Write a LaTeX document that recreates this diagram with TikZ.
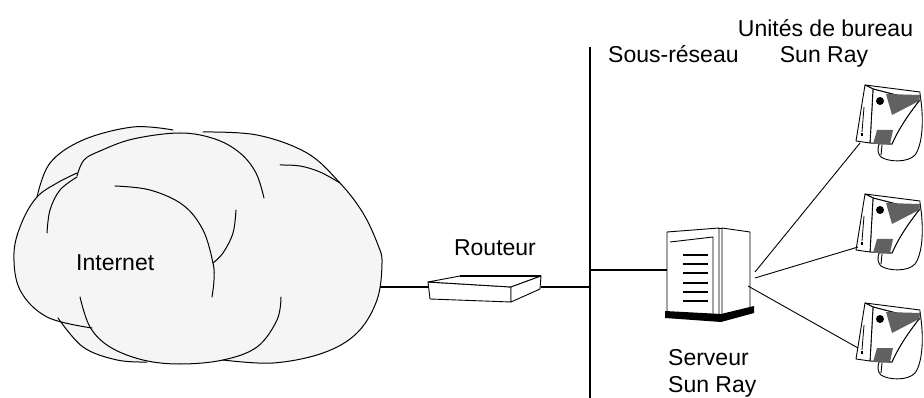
\documentclass[tikz,border=0pt]{standalone}
\usepackage{fontspec}
\setmainfont{Liberation Sans}
\definecolor{cloudgray}{RGB}{245,245,245}
\begin{document}
\begin{tikzpicture}[x=1pt,y=-1pt,
  txt/.style={inner sep=0pt, font=\fontsize{23}{27}\selectfont},
  cloudline/.style={line width=1pt, line join=round, line cap=round},
  netline/.style={line width=1.8pt},
  linkline/.style={line width=0.9pt},
  devline/.style={line width=0.9pt, line join=round},
  darkhatch/.style={fill=black!62, draw=black, line width=0.6pt},
  sunray/.pic={
    % stand and back shell
    \draw[devline, fill=white] (100,24) .. controls (104,48) and (103,74) .. (95,85)
      .. controls (88,93) and (68,92) .. (61,87) .. controls (58,84) and (57,80) .. (59,74) -- (72,74)
      .. controls (78,60) and (88,45) .. (99,31) -- cycle;
    \draw[devline] (62,75) -- (61,85);
    % top surface
    \draw[devline, fill=white] (45,15) -- (100,22) -- (100,31) -- (53,19) -- cycle;
    % front face
    \draw[devline, fill=white] (53,19) -- (99,31) .. controls (88,45) and (78,60) .. (72,74) -- (50,73) -- cycle;
    % hatched grille areas
    \fill[black!62] (66,24) -- (100,25) -- (99,31) -- (72,45) -- cycle;
    \fill[black!62] (57,60) -- (73,60) -- (70,74) -- (53,74) -- cycle;
    % round badge
    \fill (60,31) circle (4);
    % front bezel with card slot
    \draw[devline, fill=white] (45,15) -- (53,19) -- (50,73) -- (36,71) -- cycle;
    \draw[line width=0.8pt] (44,37) -- (42,62);
    \fill (40.5,63) rectangle (42.5,66);
  }
]
\useasboundingbox (0,0) rectangle (924,398);

% ---------- Internet cloud ----------
\fill[cloudgray] plot[smooth cycle, tension=0.45] coordinates {(14,253) (22,222) (37,197) (50,163) (83,140) (133,127) (173,130) (203,132) (257,135) (307,153) (340,183) (363,213) (378,245) (382,263) (377,300) (357,333) (323,353) (273,363) (223,361) (180,364) (147,362) (117,360) (83,347) (58,320) (47,317) (20,290)};
\begin{scope}[cloudline]
  % left lobe
  \draw plot[smooth, tension=0.6] coordinates {(92,328) (47,317) (20,290) (14,253) (22,222) (37,197) (57,183) (77,173)};
  % upper left lobe
  \draw plot[smooth, tension=0.6] coordinates {(37,197) (50,163) (83,140) (133,127) (173,130)};
  % upper middle lobe
  \draw plot[smooth, tension=0.6] coordinates {(77,176) (84,160) (100,151) (133,139) (180,133) (215,139) (240,153) (256,173) (264,198)};
  \draw plot[smooth, tension=0.6] coordinates {(77,177) (60,190) (50,210) (47,233)};
  % right lobe
  \draw plot[smooth, tension=0.6] coordinates {(203,132) (257,135) (307,153) (340,183) (363,213) (378,245) (382,263) (377,300) (357,333) (323,353) (273,363) (223,360)};
  \draw plot[smooth, tension=0.6] coordinates {(280,165) (300,166) (320,172) (340,183)};
  % inner folds
  \draw plot[smooth, tension=0.6] coordinates {(236,210) (233,233) (223,253) (213,263)};
  \draw plot[smooth, tension=0.6] coordinates {(115,186) (150,190) (183,205) (203,230) (213,263) (214,280) (212,297)};
  % lower lobes
  \draw plot[smooth, tension=0.6] coordinates {(80,297) (90,327) (110,347) (143,360) (180,364) (223,360) (257,347) (277,320) (281,297)};
  \draw plot[smooth, tension=0.6] coordinates {(58,318) (83,347) (117,360) (147,362)};
\end{scope}
\node[txt, anchor=base west] (internet) at (76,270) {Internet};
\coordinate (cloudE) at (380,287);

% ---------- router ----------
\node[inner sep=0pt, minimum width=113pt, minimum height=26pt] (router) at (484.5,289) {};
\draw[devline, fill=white] (428,282) -- (511,287) -- (511,302) -- (430,299) -- cycle;
\draw[devline, fill=white] (428,282) -- (460,276) -- (541,276) -- (511,287) -- cycle;
\draw[devline, fill=white] (511,287) -- (541,276) -- (540,289) -- (511,302) -- cycle;
\draw[line width=1.8pt] (460,276) -- (541,276);
\node[txt, anchor=base] (routerlabel) at (495,256) {Routeur};

% ---------- subnet bus ----------
\coordinate (busT) at (590,47);
\coordinate (busB) at (590,399);
\coordinate (busS) at (590,270);
\draw[netline] (busT) -- (busB);
\draw[netline] (cloudE) -- (cloudE -| router.west);
\draw[netline] (router.east |- cloudE) -- (cloudE -| busT);
\node[txt, anchor=base west] (subnet) at (608,63) {Sous-réseau};

% ---------- server ----------
\node[inner sep=0pt, minimum width=83pt, minimum height=90pt] (server) at (708.5,273) {};
\draw[devline, fill=white] (667,232) -- (719,228) -- (719,317) -- (667,313) -- cycle;
\draw[devline, fill=white] (722,228) -- (750,232) -- (750,309) -- (722,317) -- cycle;
\draw[devline] (719,228) -- (722,228);
\draw[devline] (670,242) -- (713,237) -- (713,314);
\foreach \vy in {255,264,273,283,292,301}
  \draw[line width=1.8pt] (683,\vy) -- (708,\vy);
\fill (665,311) -- (721,314) -- (754,306) -- (754,313) -- (721,322) -- (665,318) -- cycle;
\draw[netline] (busS) -- (busS -| server.west);
\node[txt, anchor=base west] (srv1) at (668,365) {Serveur};
\node[txt, anchor=base west] (srv2) at (668,392) {Sun Ray};

% ---------- desktop units ----------
\pic (u1) at (820,70) {sunray};
\pic (u2) at (820,179) {sunray};
\pic (u3) at (820,288) {sunray};
\coordinate (s1) at (755,272);
\coordinate (s2) at (755,278);
\coordinate (s3) at (748,286);
\coordinate (d1) at (860,143);
\coordinate (d2) at (858,247);
\coordinate (d3) at (858,348);
\draw[linkline] (s1) -- (d1);
\draw[linkline] (s2) -- (d2);
\draw[linkline] (s3) -- (d3);
\node[txt, anchor=base] (units1) at (825.5,37) {Unités de bureau};
\node[txt, anchor=base] (units2) at (824,63) {Sun Ray};
\end{tikzpicture}
\end{document}
